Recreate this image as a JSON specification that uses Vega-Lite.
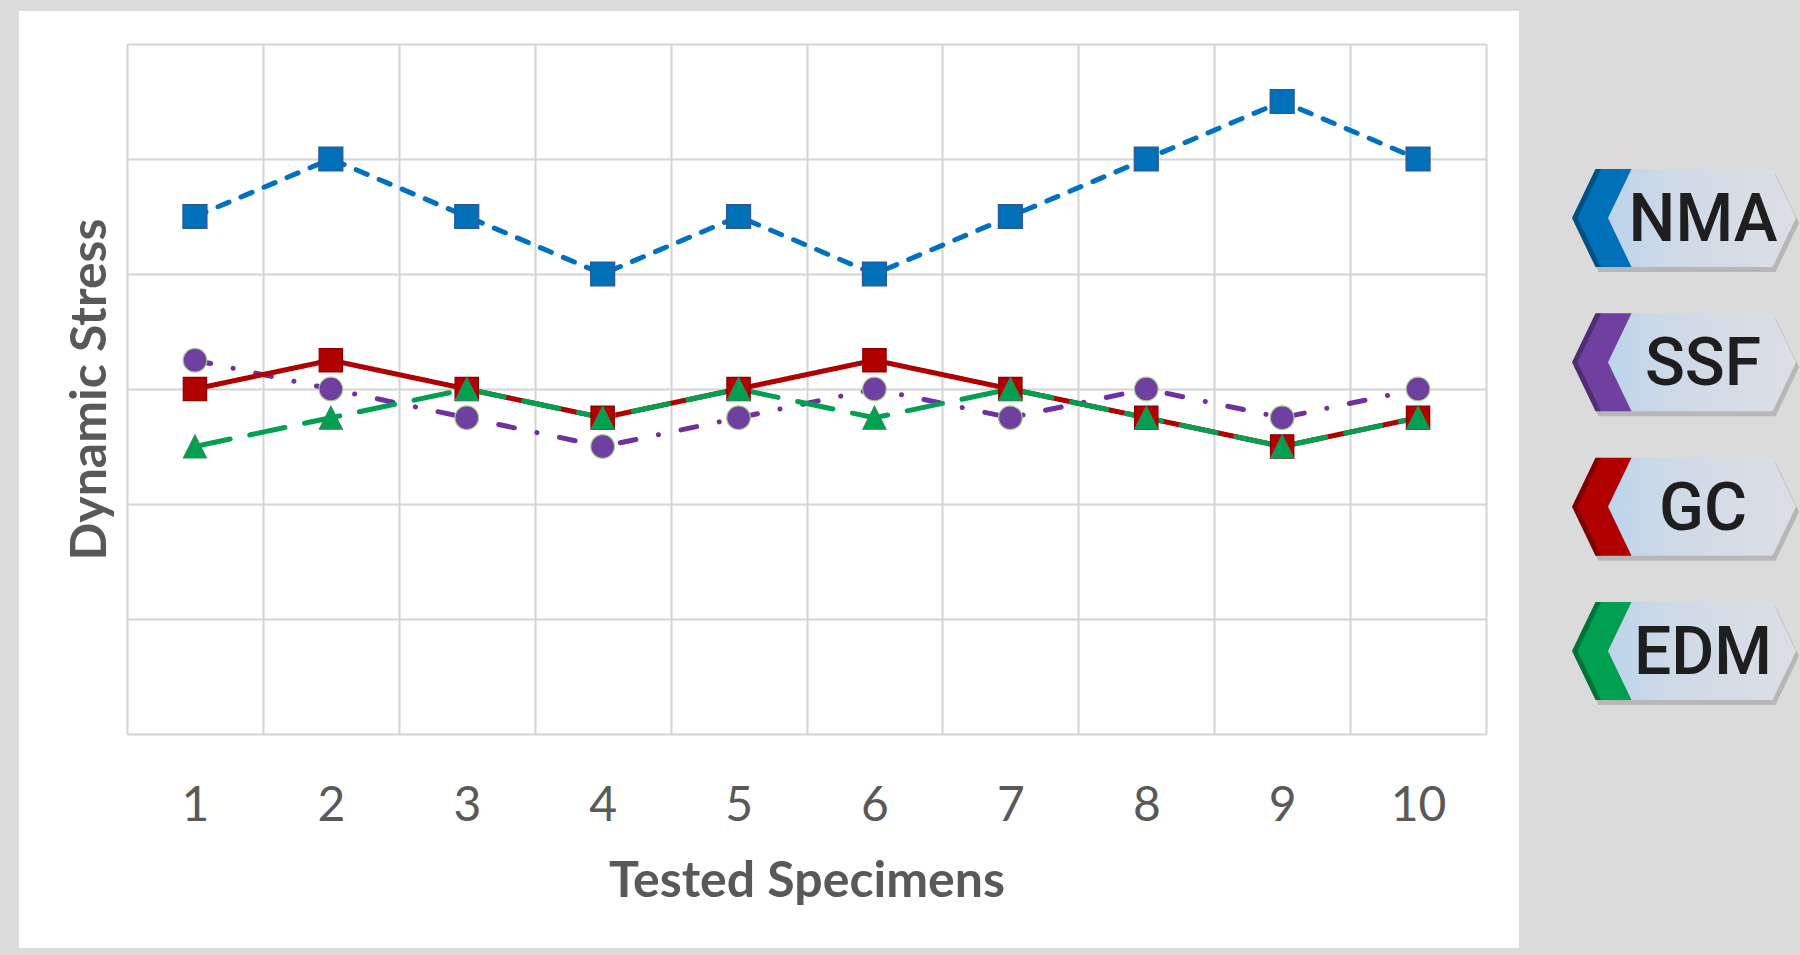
{
  "$schema": "https://vega.github.io/schema/vega-lite/v6.json",
  "width": 1359,
  "height": 690,
  "autosize": {"type": "none"},
  "padding": {"left": 127, "top": 44, "right": 314, "bottom": 221},
  "background": "#ffffff",
  "config": {"view": {"stroke": null}},
  "datasets": {
    "stress": [
      {"specimen": 1, "series": "NMA", "stress": 4.5},
      {"specimen": 2, "series": "NMA", "stress": 5},
      {"specimen": 3, "series": "NMA", "stress": 4.5},
      {"specimen": 4, "series": "NMA", "stress": 4},
      {"specimen": 5, "series": "NMA", "stress": 4.5},
      {"specimen": 6, "series": "NMA", "stress": 4},
      {"specimen": 7, "series": "NMA", "stress": 4.5},
      {"specimen": 8, "series": "NMA", "stress": 5},
      {"specimen": 9, "series": "NMA", "stress": 5.5},
      {"specimen": 10, "series": "NMA", "stress": 5},
      {"specimen": 1, "series": "SSF", "stress": 3.25},
      {"specimen": 2, "series": "SSF", "stress": 3},
      {"specimen": 3, "series": "SSF", "stress": 2.75},
      {"specimen": 4, "series": "SSF", "stress": 2.5},
      {"specimen": 5, "series": "SSF", "stress": 2.75},
      {"specimen": 6, "series": "SSF", "stress": 3},
      {"specimen": 7, "series": "SSF", "stress": 2.75},
      {"specimen": 8, "series": "SSF", "stress": 3},
      {"specimen": 9, "series": "SSF", "stress": 2.75},
      {"specimen": 10, "series": "SSF", "stress": 3},
      {"specimen": 1, "series": "GC", "stress": 3},
      {"specimen": 2, "series": "GC", "stress": 3.25},
      {"specimen": 3, "series": "GC", "stress": 3},
      {"specimen": 4, "series": "GC", "stress": 2.75},
      {"specimen": 5, "series": "GC", "stress": 3},
      {"specimen": 6, "series": "GC", "stress": 3.25},
      {"specimen": 7, "series": "GC", "stress": 3},
      {"specimen": 8, "series": "GC", "stress": 2.75},
      {"specimen": 9, "series": "GC", "stress": 2.5},
      {"specimen": 10, "series": "GC", "stress": 2.75},
      {"specimen": 1, "series": "EDM", "stress": 2.5},
      {"specimen": 2, "series": "EDM", "stress": 2.75},
      {"specimen": 3, "series": "EDM", "stress": 3},
      {"specimen": 4, "series": "EDM", "stress": 2.75},
      {"specimen": 5, "series": "EDM", "stress": 3},
      {"specimen": 6, "series": "EDM", "stress": 2.75},
      {"specimen": 7, "series": "EDM", "stress": 3},
      {"specimen": 8, "series": "EDM", "stress": 2.75},
      {"specimen": 9, "series": "EDM", "stress": 2.5},
      {"specimen": 10, "series": "EDM", "stress": 2.75}
    ],
    "legend": [
      {"series": "NMA"},
      {"series": "SSF"},
      {"series": "GC"},
      {"series": "EDM"}
    ]
  },
  "layer": [
    {
      "data": {"name": "stress"},
      "layer": [
        {
          "mark": {"type": "line", "strokeWidth": 5, "strokeCap": "round", "strokeJoin": "round"},
          "encoding": {
            "x": {
              "field": "specimen", "type": "quantitative",
              "scale": {"domain": [0.5, 10.5], "nice": false, "zero": false},
              "axis": {
                "values": [0.5, 1.5, 2.5, 3.5, 4.5, 5.5, 6.5, 7.5, 8.5, 9.5, 10.5],
                "grid": true, "gridColor": "#d4d4d4", "gridWidth": 2,
                "domain": false, "ticks": false, "tickSize": 0,
                "labelOffset": 68,
                "labelExpr": "datum.value < 10 ? format(datum.value + 0.5, 'd') : ''",
                "labelFont": "Lato", "labelFontSize": 48, "labelColor": "#595959",
                "labelPadding": 48, "labelFlush": false, "labelOverlap": false, "labelBound": false,
                "title": "Tested Specimens", "titleFont": "Lato", "titleFontSize": 50,
                "titleFontWeight": "bold", "titleColor": "#595959", "titlePadding": 26
              }
            },
            "y": {
              "field": "stress", "type": "quantitative",
              "scale": {"domain": [0, 6], "nice": false, "zero": false},
              "axis": {
                "values": [0, 1, 2, 3, 4, 5, 6],
                "grid": true, "gridColor": "#d4d4d4", "gridWidth": 2,
                "domain": false, "ticks": false, "tickSize": 0, "labels": false,
                "title": "Dynamic Stress", "titleFont": "Lato", "titleFontSize": 50,
                "titleFontWeight": "bold", "titleColor": "#595959", "titlePadding": 12
              }
            },
            "color": {
              "field": "series", "type": "nominal",
              "scale": {"domain": ["NMA", "SSF", "GC", "EDM"], "range": ["#0070c0", "#7030a0", "#b00000", "#00a050"]},
              "legend": null
            },
            "strokeDash": {
              "field": "series", "type": "nominal",
              "scale": {"domain": ["NMA", "SSF", "GC", "EDM"], "range": [[12, 13], [16, 23, 0.1, 23], [1, 0], [36, 20]]},
              "legend": null
            }
          }
        },
        {
          "mark": {"type": "point", "filled": true, "opacity": 1, "strokeWidth": 1.2},
          "encoding": {
            "x": {"field": "specimen", "type": "quantitative", "scale": {"domain": [0.5, 10.5], "nice": false, "zero": false}},
            "y": {"field": "stress", "type": "quantitative", "scale": {"domain": [0, 6], "nice": false, "zero": false}},
            "fill": {
              "field": "series", "type": "nominal",
              "scale": {"domain": ["NMA", "SSF", "GC", "EDM"], "range": ["#0070b8", "#7040a0", "#b00000", "#00a050"]},
              "legend": null
            },
            "stroke": {
              "field": "series", "type": "nominal",
              "scale": {"domain": ["NMA", "SSF", "GC", "EDM"], "range": ["#2f5597", "#a9c98e", "#8a0000", "#2e8b57"]},
              "legend": null
            },
            "shape": {
              "field": "series", "type": "nominal",
              "scale": {"domain": ["NMA", "SSF", "GC", "EDM"], "range": ["square", "circle", "square", "M0,-1L1,1L-1,1Z"]},
              "legend": null
            },
            "size": {
              "field": "series", "type": "nominal",
              "scale": {"domain": ["NMA", "SSF", "GC", "EDM"], "range": [576, 529, 576, 729]},
              "legend": null
            }
          }
        },
        {
          "data": {"values": [{}]},
          "mark": {"type": "rect", "color": "#dbdbdb"},
          "encoding": {
            "x": {"datum": -3, "type": "quantitative", "scale": {"domain": [0.5, 10.5], "nice": false, "zero": false}},
            "x2": {"datum": -0.2947},
            "y": {"datum": -4, "type": "quantitative", "scale": {"domain": [0, 6], "nice": false, "zero": false}},
            "y2": {"datum": 9}
          }
        },
        {
          "data": {"values": [{}]},
          "mark": {"type": "rect", "color": "#dbdbdb"},
          "encoding": {
            "x": {"datum": 10.7428, "type": "quantitative", "scale": {"domain": [0.5, 10.5], "nice": false, "zero": false}},
            "x2": {"datum": 16},
            "y": {"datum": -4, "type": "quantitative", "scale": {"domain": [0, 6], "nice": false, "zero": false}},
            "y2": {"datum": 9}
          }
        },
        {
          "data": {"values": [{}]},
          "mark": {"type": "rect", "color": "#dbdbdb"},
          "encoding": {
            "x": {"datum": -3, "type": "quantitative", "scale": {"domain": [0.5, 10.5], "nice": false, "zero": false}},
            "x2": {"datum": 16},
            "y": {"datum": 6.287, "type": "quantitative", "scale": {"domain": [0, 6], "nice": false, "zero": false}},
            "y2": {"datum": 9}
          }
        },
        {
          "data": {"values": [{}]},
          "mark": {"type": "rect", "color": "#dbdbdb"},
          "encoding": {
            "x": {"datum": -3, "type": "quantitative", "scale": {"domain": [0.5, 10.5], "nice": false, "zero": false}},
            "x2": {"datum": 16},
            "y": {"datum": -4, "type": "quantitative", "scale": {"domain": [0, 6], "nice": false, "zero": false}},
            "y2": {"datum": -1.8609}
          }
        }
      ]
    },
    {
      "data": {"name": "legend"},
      "encoding": {
        "y": {
          "field": "series", "type": "nominal",
          "scale": {"type": "point", "domain": ["NMA", "SSF", "GC", "EDM"], "padding": 0.891, "align": 0.677},
          "axis": null
        }
      },
      "layer": [
        {
          "mark": {"type": "point", "filled": true, "opacity": 0.45, "strokeWidth": 0, "size": 50176, "xOffset": 3, "yOffset": 5, "color": "#8c8c8c",
            "shape": "M-1,0L-0.79,-0.4375L0.79,-0.4375L1,0L0.79,0.4375L-0.79,0.4375Z"},
          "encoding": {
            "x": {"datum": 11.957, "type": "quantitative", "scale": {"domain": [0.5, 10.5], "nice": false, "zero": false}}
          }
        },
        {
          "mark": {"type": "point", "filled": true, "opacity": 1, "strokeWidth": 0, "size": 50176,
            "fill": {"gradient": "linear", "x1": 0, "y1": 0, "x2": 1, "y2": 0, "stops": [{"offset": 0, "color": "#bcd4ec"}, {"offset": 0.35, "color": "#cfdae7"}, {"offset": 1, "color": "#dcdfe4"}]},
            "shape": "M-0.679,0L-0.469,-0.4375L0.79,-0.4375L1,0L0.79,0.4375L-0.469,0.4375Z"},
          "encoding": {
            "x": {"datum": 11.957, "type": "quantitative", "scale": {"domain": [0.5, 10.5], "nice": false, "zero": false}}
          }
        },
        {
          "mark": {"type": "point", "filled": true, "opacity": 1, "strokeWidth": 0, "size": 50176,
            "shape": "M-1,0L-0.79,-0.4375L-0.469,-0.4375L-0.679,0L-0.469,0.4375L-0.79,0.4375Z"},
          "encoding": {
            "x": {"datum": 11.957, "type": "quantitative", "scale": {"domain": [0.5, 10.5], "nice": false, "zero": false}},
            "fill": {
              "field": "series", "type": "nominal",
              "scale": {"domain": ["NMA", "SSF", "GC", "EDM"], "range": ["#0070b8", "#7040a0", "#b00000", "#00a050"]},
              "legend": null
            }
          }
        },
        {
          "mark": {"type": "point", "filled": true, "opacity": 0.28, "strokeWidth": 0, "size": 50176, "color": "#000000",
            "shape": "M-1,0L-0.79,-0.4375L-0.74,-0.4375L-0.95,0L-0.74,0.4375L-0.79,0.4375Z"},
          "encoding": {
            "x": {"datum": 11.957, "type": "quantitative", "scale": {"domain": [0.5, 10.5], "nice": false, "zero": false}}
          }
        },
        {
          "mark": {"type": "text", "font": "Roboto", "fontSize": 66, "fontWeight": 500, "color": "#1e1e1e", "align": "center", "baseline": "middle", "dy": 3},
          "encoding": {
            "x": {"datum": 12.097, "type": "quantitative", "scale": {"domain": [0.5, 10.5], "nice": false, "zero": false}},
            "text": {"field": "series", "type": "nominal"}
          }
        }
      ]
    }
  ],
  "resolve": {"scale": {"y": "independent"}}
}
